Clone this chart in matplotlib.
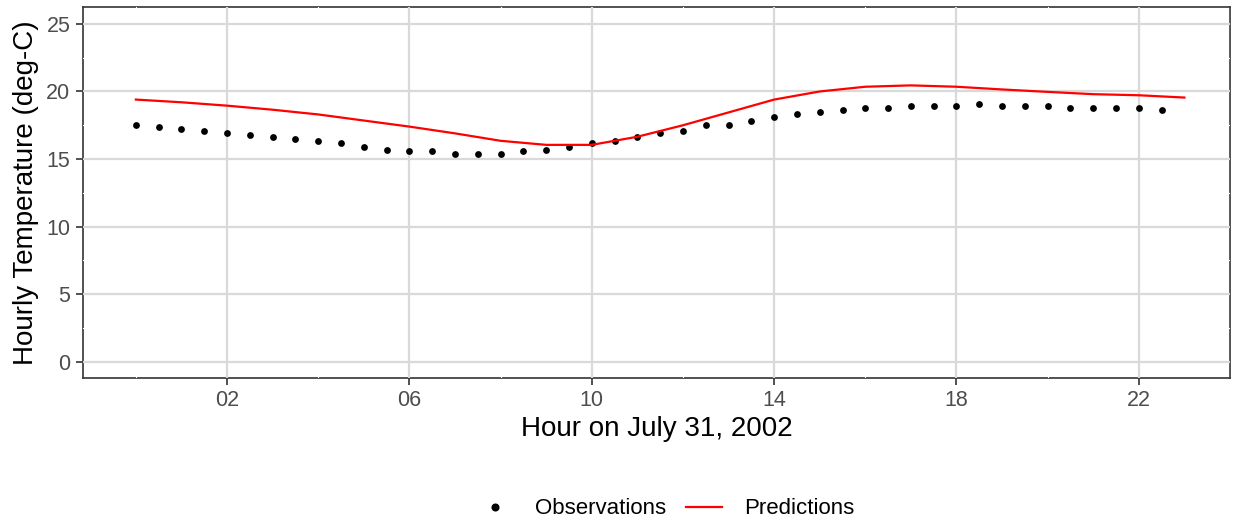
import numpy as np
import matplotlib
matplotlib.use("Agg")
import matplotlib.pyplot as plt
from matplotlib.lines import Line2D

plt.rcParams['font.family'] = ['Liberation Sans', 'DejaVu Sans']

obs_hours = [h * 0.5 for h in range(46)]
obs_temp = [17.5, 17.4, 17.2, 17.1, 16.9, 16.8, 16.6, 16.5, 16.3, 16.2,
            15.9, 15.7, 15.6, 15.6, 15.4, 15.4, 15.4, 15.6, 15.7, 15.9,
            16.2, 16.3, 16.6, 16.9, 17.1, 17.5, 17.5, 17.8, 18.1, 18.3,
            18.5, 18.6, 18.8, 18.8, 18.9, 18.9, 18.9, 19.1, 18.9, 18.9,
            18.9, 18.8, 18.8, 18.8, 18.8, 18.6]
pred_hours = list(range(24))
pred_temp = [19.4, 19.2, 18.95, 18.65, 18.3, 17.85, 17.4, 16.9, 16.35, 16.05,
             16.05, 16.65, 17.5, 18.45, 19.4, 20.0, 20.35, 20.45, 20.35, 20.15,
             19.97, 19.8, 19.72, 19.55]
x_ticks = [2, 6, 10, 14, 18, 22]
x_ticklabels = ["02", "06", "10", "14", "18", "22"]
y_ticks = [0, 5, 10, 15, 20, 25]

W, H = 1236, 523
fig = plt.figure(figsize=(W / 100, H / 100), dpi=100)
ax = fig.add_axes([83 / W, (H - 378) / H, (1230 - 83) / W, (378 - 7) / H])

ax.set_xlim(-1.16, 24.0)
ax.set_ylim(-1.2, 26.25)

grid_c = '#D9D9D9'
for xv in x_ticks:
    ax.axvline(xv, color=grid_c, lw=1.6, zorder=2.7)
for yv in y_ticks:
    ax.axhline(yv, color=grid_c, lw=1.6, zorder=2.7)
for xv in [0, 4, 8, 12, 16, 20, 24]:
    ax.axvline(xv, color='white', lw=0.8, zorder=2.6)
for yv in [2.5, 7.5, 12.5, 17.5, 22.5]:
    ax.axhline(yv, color='white', lw=0.8, zorder=2.6)

ax.scatter(obs_hours, obs_temp, s=24, color='black', zorder=4, linewidths=0)
ax.plot(pred_hours, pred_temp, color='#FF0000', lw=1.6, zorder=5)

ax.set_xticks(x_ticks)
ax.set_xticklabels(x_ticklabels)
ax.set_yticks(y_ticks)
ax.tick_params(axis='both', colors='#333333', labelcolor='#4D4D4D',
               labelsize=15.5, length=5, width=1.2, pad=4)
for s in ax.spines.values():
    s.set_color('#333333')
    s.set_linewidth(1.2)

ax.set_xlabel("Hour on July 31, 2002", fontsize=20, color='black', labelpad=3)
ax.set_ylabel("Hourly Temperature (deg-C)", fontsize=20, color='black', labelpad=5)

handles = [Line2D([], [], marker='o', color='black', ls='none', markersize=4.8),
           Line2D([], [], color='#FF0000', lw=1.6)]
fig.legend(handles, ["Observations", "Predictions"], loc='center',
           bbox_to_anchor=(666 / W, 1 - 509 / H), ncol=2, frameon=False,
           fontsize=16, handlelength=1.6, handletextpad=1.0, columnspacing=0.9)

fig.savefig("out.png", dpi=100)
